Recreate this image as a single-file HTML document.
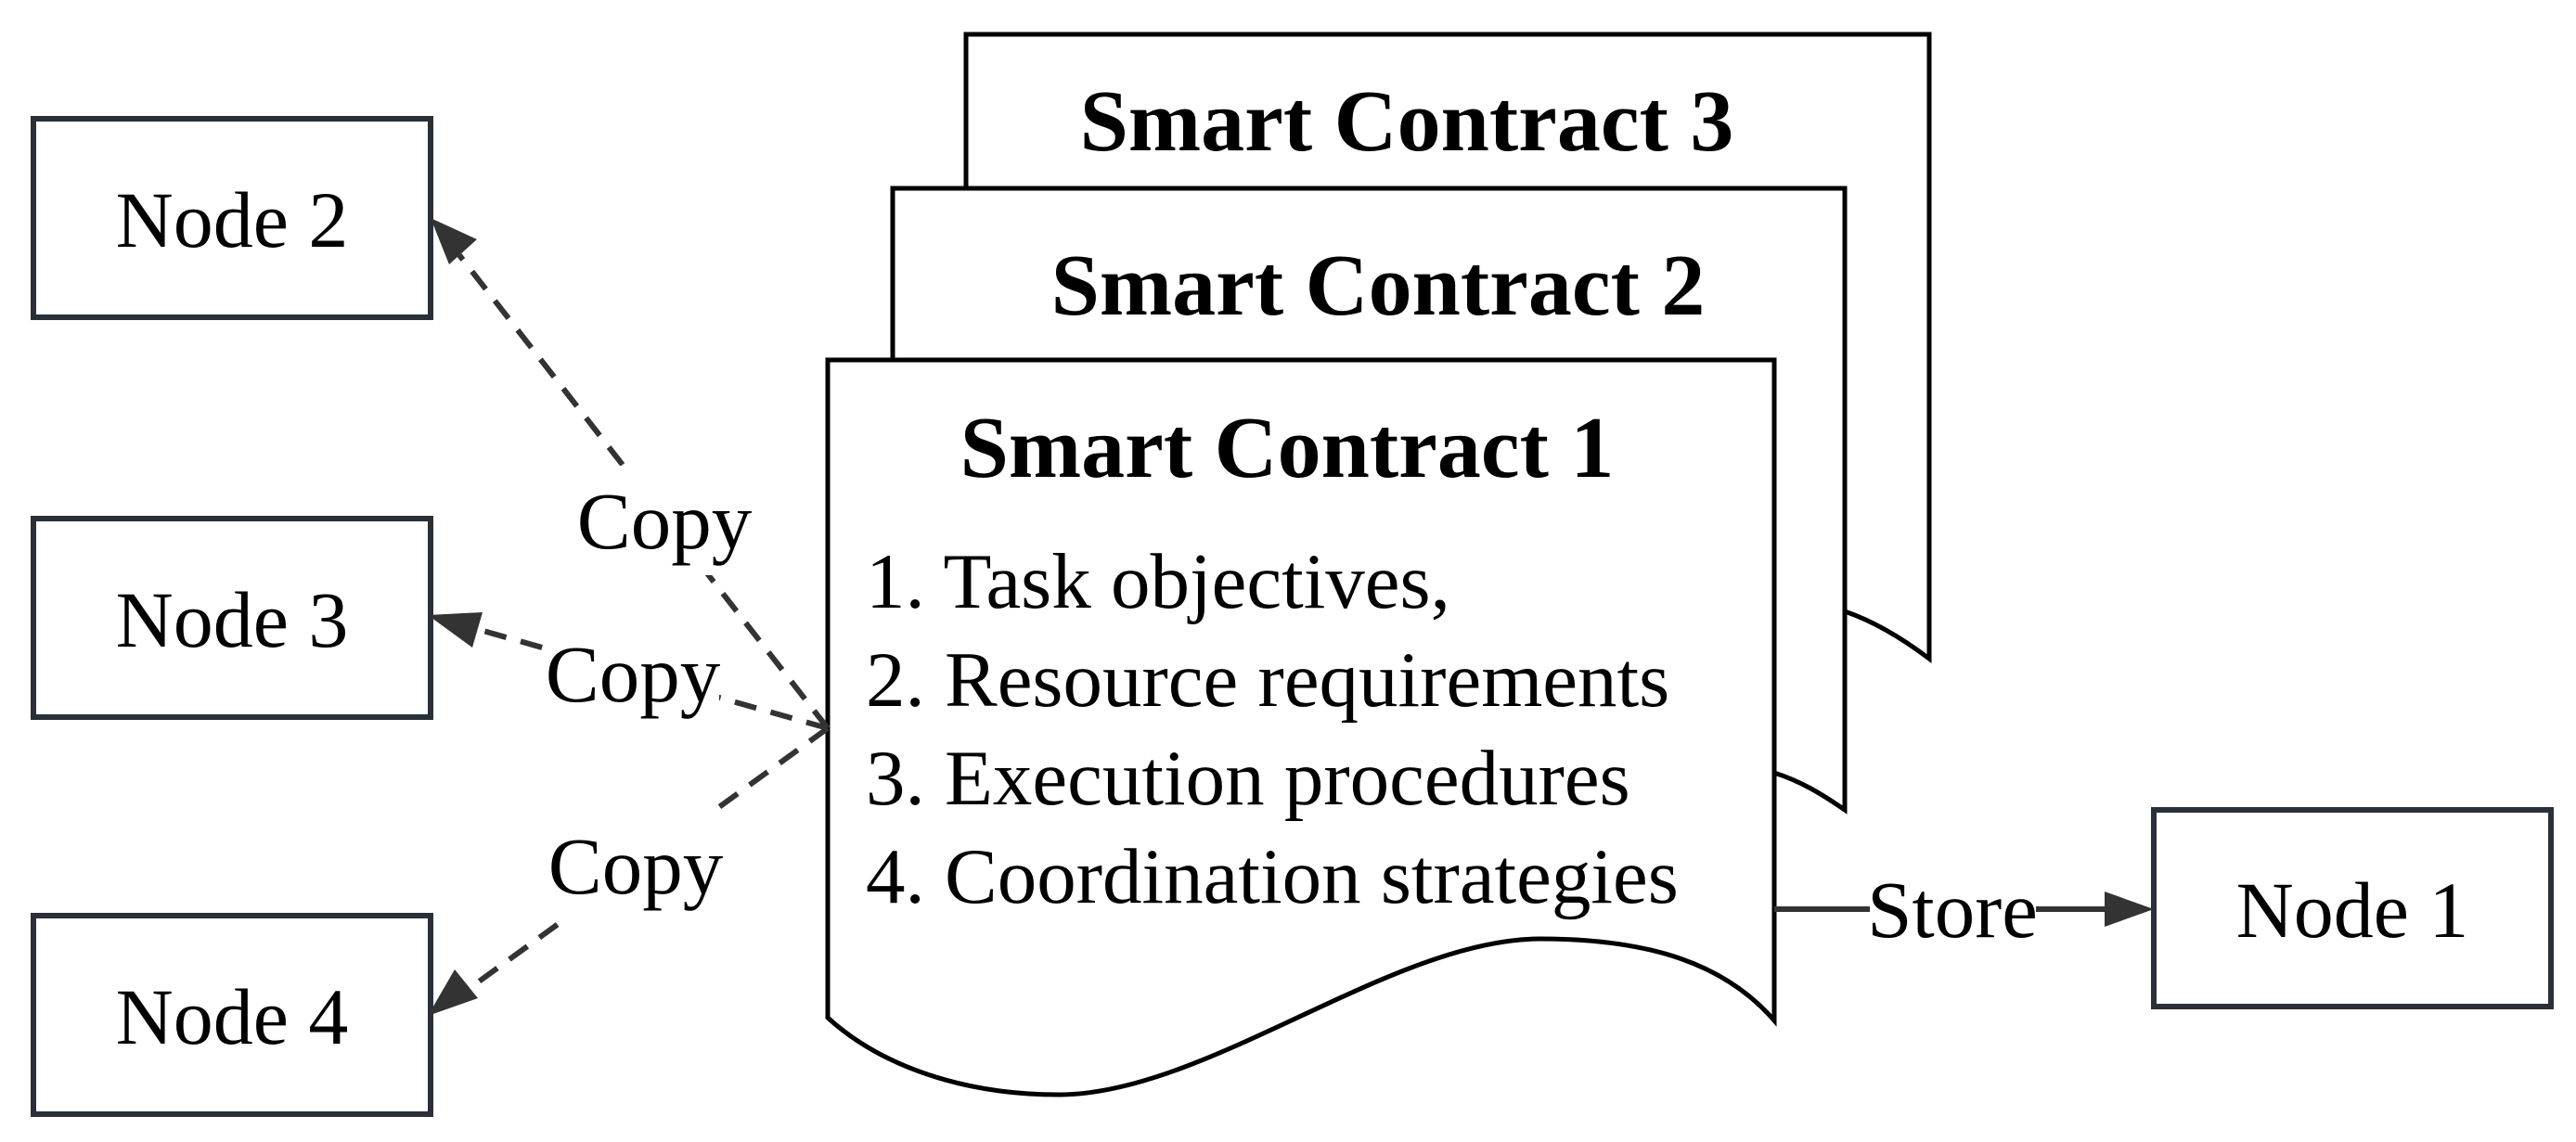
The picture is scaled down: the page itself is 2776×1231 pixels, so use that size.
<!DOCTYPE html>
<html><head><meta charset="utf-8"><style>html,body{margin:0;padding:0;background:#fff}svg{display:block}</style></head>
<body>
<svg width="2776" height="1231" viewBox="0 0 2776 1231" xmlns="http://www.w3.org/2000/svg" font-family="'Liberation Serif', serif">
<rect width="2776" height="1231" fill="#fff"/>
<!-- Doc 3 -->
<path d="M1041,37 L2079,37 L2079,710 C2050,688 2020,670 1988,659 L1988,203 L1041,203 Z" fill="#fff" stroke="#000" stroke-width="5"/>
<text x="1516" y="162" font-size="94" font-weight="bold" text-anchor="middle">Smart Contract 3</text>
<!-- Doc 2 -->
<path d="M962,203 L1988,203 L1988,873 C1962,855 1940,842 1912,833 L1912,388 L962,388 Z" fill="#fff" stroke="#000" stroke-width="5"/>
<text x="1485" y="339" font-size="94" font-weight="bold" text-anchor="middle">Smart Contract 2</text>
<!-- Doc 1 -->
<path d="M892,388 L1912,388 L1912,1100 C1860,1040 1780,1012 1660,1012 C1500,1012 1300,1180 1141,1180 C1040,1180 950,1150 892,1097 Z" fill="#fff" stroke="#000" stroke-width="5"/>
<text x="1387" y="514" font-size="94" font-weight="bold" text-anchor="middle">Smart Contract 1</text>
<g font-size="85">
<text x="933" y="655">1. Task objectives,</text>
<text x="933" y="761">2. Resource requirements</text>
<text x="933" y="867">3. Execution procedures</text>
<text x="933" y="973">4. Coordination strategies</text>
</g>
<!-- Nodes -->
<g fill="#fff" stroke="#2a3038" stroke-width="6">
<rect x="36" y="128" width="428" height="214"/>
<rect x="36" y="559" width="428" height="214"/>
<rect x="36" y="987" width="428" height="214"/>
<rect x="2321" y="873" width="428" height="212"/>
</g>
<g font-size="86" text-anchor="middle">
<text x="250" y="266">Node 2</text>
<text x="250" y="697">Node 3</text>
<text x="250" y="1125">Node 4</text>
<text x="2535" y="1010">Node 1</text>
</g>
<!-- Copy edges -->
<g stroke="#333" stroke-width="6" stroke-dasharray="24,16" fill="none">
<line x1="892" y1="785" x2="495" y2="275"/>
<line x1="892" y1="785" x2="510" y2="677"/>
<line x1="892" y1="785" x2="505" y2="1066"/>
</g>
<g fill="#333">
<polygon points="464,235 514,258 484,285"/>
<polygon points="461,663 520,660 509,698"/>
<polygon points="461,1095 490,1045 515,1076"/>
</g>
<!-- Store edge -->
<line x1="1912" y1="980" x2="2275" y2="980" stroke="#333" stroke-width="6"/>
<polygon points="2321,980 2268,961 2268,999" fill="#333"/>
<!-- Labels -->
<g fill="#fff">
<rect x="623" y="502" width="187" height="118"/>
<rect x="589" y="667" width="186" height="118"/>
<rect x="592" y="873" width="187" height="120"/>
<rect x="2015" y="922" width="179" height="117"/>
</g>
<g font-size="87" text-anchor="middle">
<text x="716" y="591">Copy</text>
<text x="682" y="756">Copy</text>
<text x="685" y="963">Copy</text>
<text x="2104" y="1010">Store</text>
</g>
</svg>
</body></html>
